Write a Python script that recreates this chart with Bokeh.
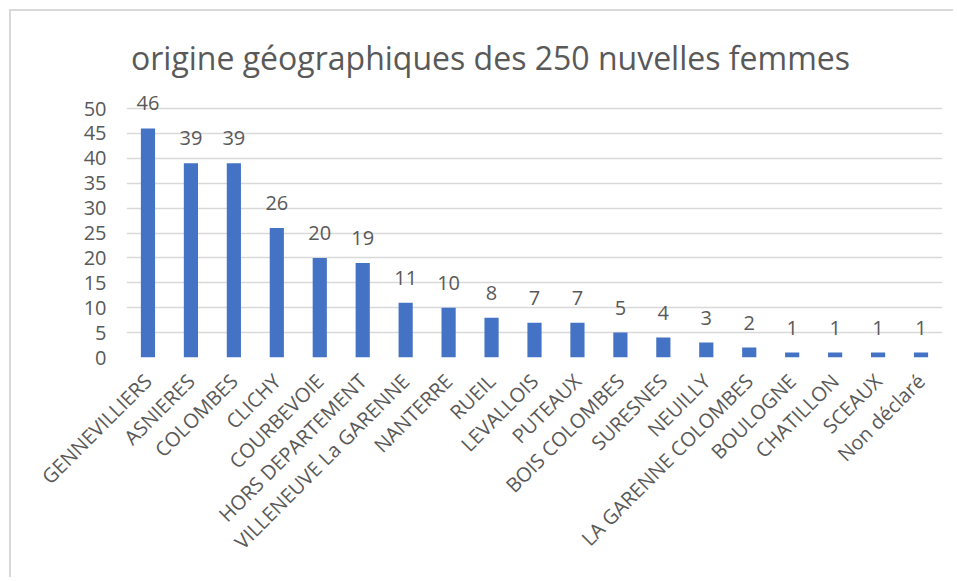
import math
from bokeh.plotting import figure
from bokeh.models import ColumnDataSource, LabelSet, Label, Range1d, FactorRange, FixedTicker
from bokeh.core.properties import value
from bokeh.embed import file_html
from bokeh.resources import INLINE

categories = ["GENNEVILLIERS", "ASNIERES", "COLOMBES", "CLICHY", "COURBEVOIE",
              "HORS DEPARTEMENT", "VILLENEUVE La GARENNE", "NANTERRE", "RUEIL",
              "LEVALLOIS", "PUTEAUX", "BOIS COLOMBES", "SURESNES", "NEUILLY",
              "LA GARENNE COLOMBES", "BOULOGNE", "CHATILLON", "SCEAUX", "Non déclaré"]
values = [46, 39, 39, 26, 20, 19, 11, 10, 8, 7, 7, 5, 4, 3, 2, 1, 1, 1, 1]
y_ticks = [0, 5, 10, 15, 20, 25, 30, 35, 40, 45, 50]
title_text = "origine géographiques des 250 nuvelles femmes"

TEXT = "#595959"
FONT = "Open Sans"

src = ColumnDataSource(dict(cat=categories, val=values, lab=[str(v) for v in values]))

W, H = 944, 568
p = figure(width=W, height=H, output_backend="svg", toolbar_location=None,
           x_range=FactorRange(*categories, range_padding=0),
           y_range=Range1d(0, 69.48),
           min_border_left=115, min_border_right=13,
           min_border_top=0, min_border_bottom=222)
p.styles = {"margin-left": "9px", "margin-top": "9px",
            "border-top": "2px solid #d9d9d9", "border-left": "2px solid #d9d9d9"}
p.outline_line_color = None
p.background_fill_color = "white"
p.border_fill_color = "white"

p.vbar(x="cat", top="val", width=0.33, source=src, fill_color="#4472C4", line_color=None)

p.xgrid.grid_line_color = None
p.ygrid.grid_line_color = "#d9d9d9"
p.ygrid.grid_line_width = 1.5
p.yaxis.ticker = FixedTicker(ticks=y_ticks)
p.yaxis.axis_line_color = None
p.yaxis.major_tick_line_color = None
p.yaxis.minor_tick_line_color = None
p.yaxis.major_label_text_font = FONT
p.yaxis.major_label_text_font_size = "20px"
p.yaxis.major_label_text_color = TEXT
p.yaxis.major_label_standoff = 14

p.xaxis.axis_line_color = None
p.xaxis.major_tick_line_color = None
p.xaxis.major_label_orientation = math.pi / 4
p.xaxis.major_label_text_font = FONT
p.xaxis.major_label_text_font_size = "20px"
p.xaxis.major_label_text_color = TEXT
p.xaxis.major_label_standoff = 14

labels = LabelSet(x="cat", y="val", text="lab", source=src, text_align="center",
                  text_baseline="middle", y_offset=25, text_font=value(FONT),
                  text_font_size="20px", text_color=TEXT)
p.add_layout(labels)

title = Label(x=8.475, y=60.24, text=title_text, text_align="center", text_baseline="middle",
              text_font=FONT, text_font_size="32px", text_color=TEXT)
p.add_layout(title)

open("out.html", "w").write(file_html(p, INLINE))
